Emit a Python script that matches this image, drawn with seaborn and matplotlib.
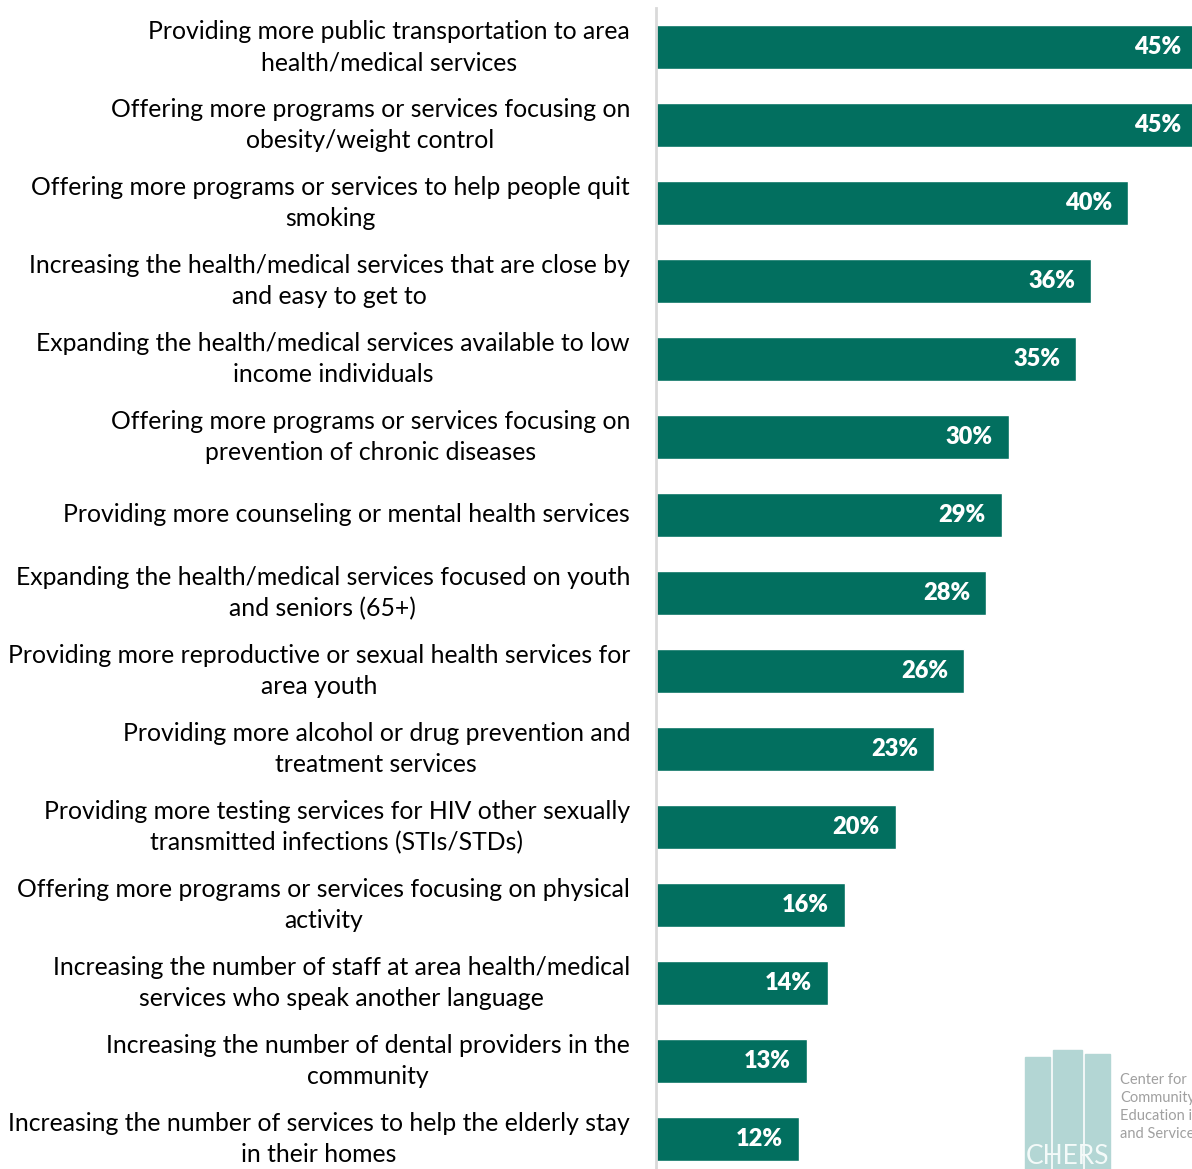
import matplotlib
matplotlib.use("Agg")
import matplotlib.pyplot as plt
import seaborn as sns
import pandas as pd
from matplotlib.patches import Rectangle

categories = [
    "Providing more public transportation to area\nhealth/medical services",
    "Offering more programs or services focusing on\nobesity/weight control",
    "Offering more programs or services to help people quit\nsmoking",
    "Increasing the health/medical services that are close by\nand easy to get to",
    "Expanding the health/medical services available to low\nincome individuals",
    "Offering more programs or services focusing on\nprevention of chronic diseases",
    "Providing more counseling or mental health services",
    "Expanding the health/medical services focused on youth\nand seniors (65+)",
    "Providing more reproductive or sexual health services for\narea youth",
    "Providing more alcohol or drug prevention and\ntreatment services",
    "Providing more testing services for HIV other sexually\ntransmitted infections (STIs/STDs)",
    "Offering more programs or services focusing on physical\nactivity",
    "Increasing the number of staff at area health/medical\nservices who speak another language",
    "Increasing the number of dental providers in the\ncommunity",
    "Increasing the number of services to help the elderly stay\nin their homes",
]
values = [45.9, 45.9, 40.0, 36.9, 35.6, 29.9, 29.3, 28.0, 26.1, 23.6, 20.3, 16.0, 14.6, 12.8, 12.1]
value_labels = ["45%", "45%", "40%", "36%", "35%", "30%", "29%", "28%", "26%", "23%",
                "20%", "16%", "14%", "13%", "12%"]

df = pd.DataFrame({"cat": categories, "val": values})

sns.set_theme(style="white")
plt.rcParams["font.family"] = ["Lato", "DejaVu Sans"]

W, H = 1192, 1169
fig = plt.figure(figsize=(W / 100, H / 100), dpi=100)
ax_left = 656 / W
ax_top = 1 - 8 / H
ax = fig.add_axes([ax_left, 0.0, 1.0 - ax_left, ax_top])

bar_color = "#026F5F"
sns.barplot(data=df, x="val", y="cat", orient="h", color=bar_color,
            width=0.56, saturation=1, ax=ax)

ax.set_xlim(0, 536 / 11.8)
ax.set_ylim(-0.5 + (1169 - 8) / 78.0, -0.5)

for i, (v, lab) in enumerate(zip(values, value_labels)):
    ax.text(v - 1.36, i, lab, ha="right", va="center", color="white",
            fontsize=17, fontweight="heavy")

ax.set_xlabel("")
ax.set_ylabel("")
ax.set_xticks([])
ax.set_yticks([])
for i, c in enumerate(categories):
    ax.text(-2.2, i, c, ha="right", va="center", multialignment="center",
            fontsize=17.8, color="black", linespacing=1.43)

for s in ["top", "right", "bottom"]:
    ax.spines[s].set_visible(False)
ax.spines["left"].set_color("#D9D9D9")
ax.spines["left"].set_linewidth(2)

# Logo (approximate)
logo_ax = fig.add_axes([1020 / W, 0, 95 / W, 125 / H])
logo_ax.set_xlim(0, 1)
logo_ax.set_ylim(0, 1)
logo_ax.axis("off")
for x0, w, h in [(0.05, 0.27, 0.90), (0.35, 0.30, 0.95), (0.68, 0.27, 0.92)]:
    logo_ax.add_patch(Rectangle((x0, 0.0), w, h, color="#B3D6D4"))
logo_ax.text(0.5, 0.0, "CHERS", ha="center", va="bottom", fontsize=19,
             color="#F4FAF9")
for k, t in enumerate(["Center for", "Community", "Education in", "and Service"]):
    fig.text(1120 / W, 1 - (1080 + k * 18) / H, t, ha="left", va="center",
             fontsize=10.5, color="#A0A0A0")

fig.savefig("out.png", dpi=100)
